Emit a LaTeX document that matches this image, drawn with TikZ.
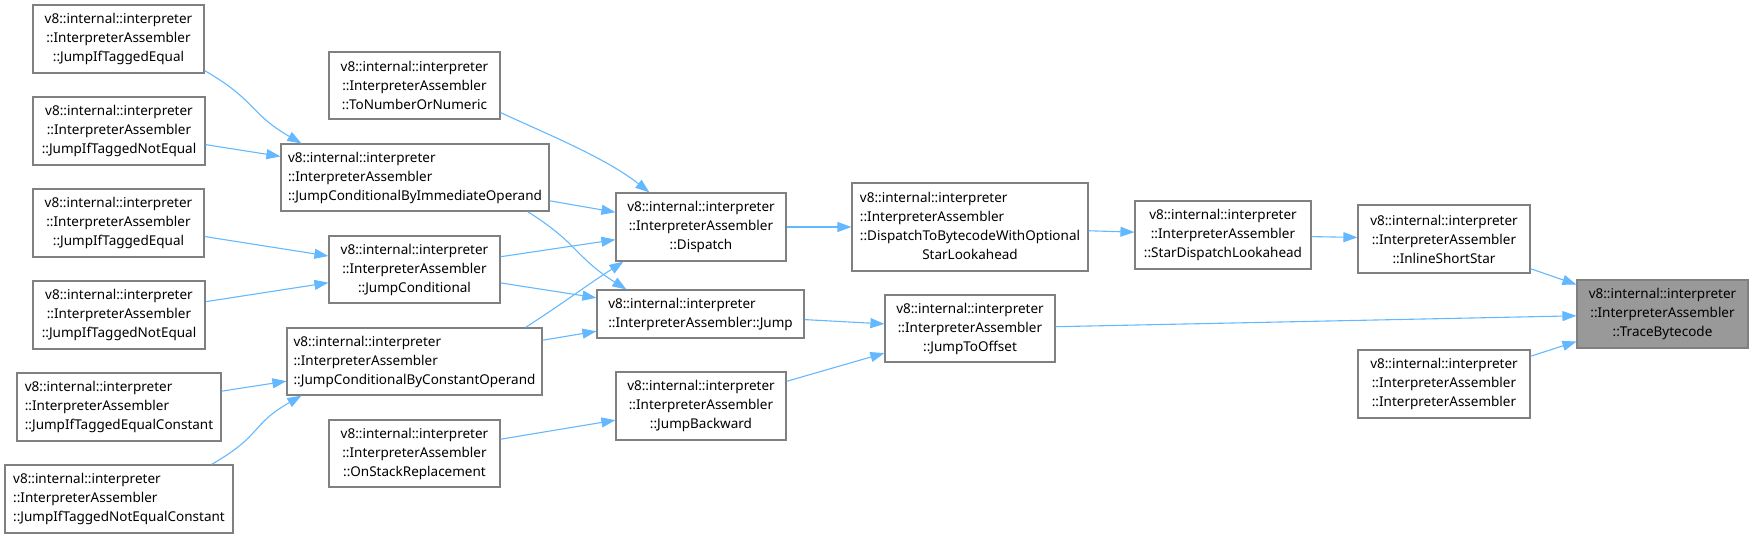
\documentclass[tikz,border=0pt]{standalone}
\usepackage{fontspec}
\setmainfont{Noto Sans}
\usetikzlibrary{arrows.meta, positioning}
\definecolor{edgeblue}{HTML}{63B8FF}
\definecolor{boxgray}{HTML}{808080}
\definecolor{hlgray}{HTML}{999999}
\tikzset{
        ->, % edges point at the called function
        >={Triangle[length=14pt, width=10pt]}, % filled heads like graphviz
        fn/.style={draw=boxgray, fill=white, line width=1.2pt, inner sep=0pt,
                   minimum width=171pt, minimum height=68pt, align=center,
                   font=\fontsize{13.5}{19}\selectfont}, % one function box
        fnl/.style={fn, align=left}, % long names are set flush left
        hl/.style={fn, fill=hlgray}, % the function the graph is about
        call/.style={color=edgeblue, line width=1.1pt},
    }

\begin{document}
\begin{tikzpicture}[x=1pt, y=-1pt]
    \useasboundingbox (0,0) rectangle (1753,538);
    % callers, far left
    \node[fn] (jite1) at (118.5,39) {v8::internal::interpreter\\::InterpreterAssembler\\::JumpIfTaggedEqual};
    \node[fn, minimum width=172pt] (jitne1) at (119,131) {v8::internal::interpreter\\::InterpreterAssembler\\::JumpIfTaggedNotEqual};
    \node[fn] (jite2) at (118.5,223) {v8::internal::interpreter\\::InterpreterAssembler\\::JumpIfTaggedEqual};
    \node[fn, minimum width=172pt] (jitne2) at (119,315) {v8::internal::interpreter\\::InterpreterAssembler\\::JumpIfTaggedNotEqual};
    \node[fnl, minimum width=204pt] (jitec) at (119,407) {v8::internal::interpreter\\::InterpreterAssembler\\::JumpIfTaggedEqualConstant};
    \node[fnl, minimum width=228pt] (jitnec) at (119,499) {v8::internal::interpreter\\::InterpreterAssembler\\::JumpIfTaggedNotEqualConstant};
    % second column
    \node[fn, minimum height=67pt] (tnn) at (414.5,85.5) {v8::internal::interpreter\\::InterpreterAssembler\\::ToNumberOrNumeric};
    \node[fnl, minimum width=268pt, minimum height=67pt] (jcio) at (415,177.5) {v8::internal::interpreter\\::InterpreterAssembler\\::JumpConditionalByImmediateOperand};
    \node[fn, minimum height=67pt] (jc) at (414.5,269.5) {v8::internal::interpreter\\::InterpreterAssembler\\::JumpConditional};
    \node[fnl, minimum width=255pt, minimum height=67pt] (jcco) at (414.5,361.5) {v8::internal::interpreter\\::InterpreterAssembler\\::JumpConditionalByConstantOperand};
    \node[fn, minimum height=67pt] (osr) at (414.5,453.5) {v8::internal::interpreter\\::InterpreterAssembler\\::OnStackReplacement};
    % third column
    \node[fn, minimum width=170pt] (disp) at (701,227) {v8::internal::interpreter\\::InterpreterAssembler\\::Dispatch};
    \node[fnl, minimum width=207pt, minimum height=48pt] (jump) at (700.5,314) {v8::internal::interpreter\\::InterpreterAssembler::Jump};
    \node[fn, minimum width=170pt] (jb) at (701,406) {v8::internal::interpreter\\::InterpreterAssembler\\::JumpBackward};
    % towards the traced function
    \node[fn, minimum width=236pt, minimum height=88pt] (dtb) at (970,227)
      {\begin{tabular}{@{}l@{}}v8::internal::interpreter\\::InterpreterAssembler\\::DispatchToBytecodeWithOptional\\\multicolumn{1}{@{}c@{}}{StarLookahead}\end{tabular}};
    \node[fn, minimum width=170pt, minimum height=67pt] (jto) at (970,328.5) {v8::internal::interpreter\\::InterpreterAssembler\\::JumpToOffset};
    \node[fn, minimum width=176pt] (sdl) at (1223,235) {v8::internal::interpreter\\::InterpreterAssembler\\::StarDispatchLookahead};
    \node[fn, minimum width=172pt] (iss) at (1444,239) {v8::internal::interpreter\\::InterpreterAssembler\\::InlineShortStar};
    \node[fn, minimum width=172pt] (ctor) at (1444,384) {v8::internal::interpreter\\::InterpreterAssembler\\::InterpreterAssembler};
    \node[hl] (tb) at (1662.5,314) {v8::internal::interpreter\\::InterpreterAssembler\\::TraceBytecode};
    % straight calls
    \draw[call]
      (jitne1) edge (jcio)
      (jite2) edge (jc)
      (jitne2) edge (jc)
      (jitec) edge (jcco)
      (jcio) edge (disp)
      (jc) edge (disp)
      (jc) edge (jump)
      (jcco) edge (jump)
      (osr) edge (jb)
      (disp) edge (dtb)
      (jump) edge (jto)
      (jb) edge (jto)
      (dtb) edge (sdl)
      (sdl) edge (iss)
      (iss) edge (tb)
      (jto) edge (tb)
      (ctor) edge (tb);
    % bent calls
    \draw[call] ([shift={(0,-3)}]jite1.south east) .. controls +(52,30) and +(-52,-30) .. ([shift={(21,0)}]jcio.north west);
    \draw[call] ([shift={(-22,0)}]jitnec.north east) .. controls +(52,-30) and +(-52,30) .. ([shift={(15,0)}]jcco.south west);
    \draw[call] ([shift={(0,-7)}]tnn.south east) .. controls +(50,23) and +(-43,-34) .. ([shift={(34,0)}]disp.north west);
    \draw[call] ([shift={(-22,0)}]jcio.south east) .. controls +(51,32) and +(-51,-32) .. ([shift={(30,0)}]jump.north west);
    \draw[call] ([shift={(-17,0)}]jcco.north east) .. controls +(46,-30) and +(-46,30) .. ([shift={(8,0)}]disp.south west);
\end{tikzpicture}
\end{document}
